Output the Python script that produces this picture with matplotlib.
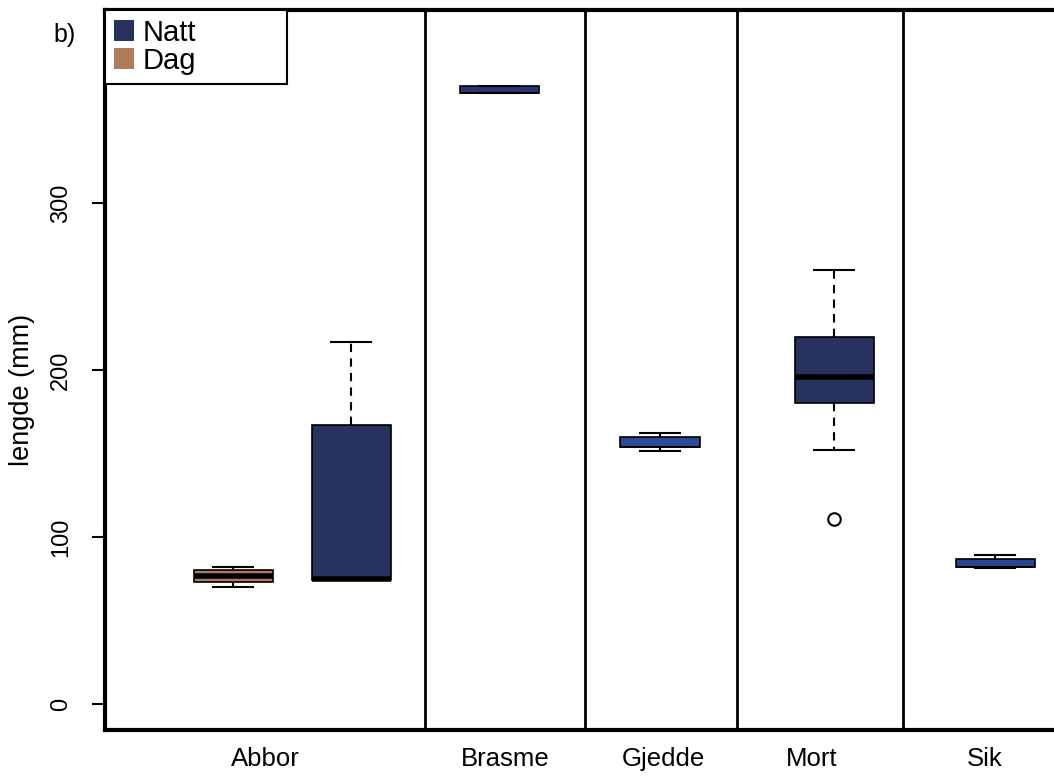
import matplotlib
matplotlib.use("Agg")
import matplotlib.pyplot as plt
from matplotlib.patches import Patch

plt.rcParams['font.family'] = ['Liberation Sans', 'DejaVu Sans']

# data (lengde, mm)
groups = ['Abbor', 'Brasme', 'Gjedde', 'Mort', 'Sik']
box_labels = ['Abbor Dag', 'Abbor Natt', 'Brasme Natt', 'Gjedde Natt', 'Mort Natt', 'Sik Natt']
whislo = [70, 74, 366, 151.5, 152, 81.5]
q1 = [73, 74, 366, 154, 180, 82]
med = [76.5, 75, 366, 154, 196, 82]
q3 = [80, 167, 370, 160, 220, 87]
whishi = [82, 217, 370, 162, 260, 89]
fliers = [[], [], [], [], [111], []]
period = ['Dag', 'Natt', 'Natt', 'Natt', 'Natt', 'Natt']

colors = {'Natt': '#27325f', 'Dag': '#b07b5b'}
box_colors = ['#b07b5b', '#27325f', '#2a3672', '#2c4a96', '#27325f', '#2a4590']

# layout positions (x in axis units)
positions = [1.28, 2.46, 3.94, 5.55, 7.29, 8.90]
dividers = [3.20, 4.80, 6.32, 7.98]
label_pos = [1.60, 4.00, 5.58, 7.07, 8.80]

fig = plt.figure(figsize=(10.54, 7.76), dpi=100)
ax = fig.add_axes([105 / 1054, 46 / 776, 960 / 1054, 720 / 776])

stats = []
for i in range(len(box_labels)):
    stats.append(dict(label=box_labels[i], whislo=whislo[i], q1=q1[i], med=med[i],
                      q3=q3[i], whishi=whishi[i], fliers=fliers[i]))

bp = ax.bxp(stats, positions=positions, widths=0.79, patch_artist=True,
            showfliers=True,
            boxprops=dict(edgecolor='black', linewidth=1.2),
            medianprops=dict(color='black', linewidth=4, solid_capstyle='butt'),
            whiskerprops=dict(color='black', linewidth=1.5, linestyle=(0, (4, 3))),
            capprops=dict(color='black', linewidth=1.5),
            flierprops=dict(marker='o', markerfacecolor='none', markeredgecolor='black',
                            markersize=9, markeredgewidth=1.5))
for patch, c in zip(bp['boxes'], box_colors):
    patch.set_facecolor(c)
# thin boxes: median sits on the box edge
for i in [2, 3, 5]:
    bp['medians'][i].set_linewidth(1.2)
for cap in bp['caps']:
    x0, x1 = cap.get_xdata()
    c = (x0 + x1) / 2
    cap.set_xdata([c - 0.2, c + 0.2])

for d in dividers:
    ax.axvline(d, color='black', linewidth=2)

ax.set_xlim(0, 9.60)
ax.set_ylim(-15.6, 415.6)

ax.set_xticks(label_pos)
ax.set_xticklabels(groups, fontsize=18.5)
ax.tick_params(axis='x', length=0, pad=12)
ax.set_yticks([0, 100, 200, 300])
ax.set_yticklabels(['0', '100', '200', '300'], rotation=90, va='center', fontsize=17)
ax.tick_params(axis='y', length=9.5, width=1.5, pad=14)
ax.set_ylabel('lengde (mm)', fontsize=19.5)
ax.yaxis.set_label_coords(-0.073, 0.472)

for s in ax.spines.values():
    s.set_linewidth(3)

handles = [Patch(facecolor=colors['Natt'], edgecolor='none'),
           Patch(facecolor=colors['Dag'], edgecolor='none')]
leg = ax.legend(handles, ['Natt', 'Dag'], loc='upper left', fontsize=21,
                bbox_to_anchor=(0.0, 1.0, 0.19, 0), mode='expand',
                handlelength=0.7, handleheight=0.7, handletextpad=0.3,
                borderaxespad=0, borderpad=0.3, labelspacing=0.0,
                fancybox=False, framealpha=1, edgecolor='black')
leg.get_frame().set_linewidth(1.5)

fig.text(53 / 1054, 1 - 35 / 776, 'b)', fontsize=18, va='center', ha='left')

plt.savefig('out.png', dpi=100)
